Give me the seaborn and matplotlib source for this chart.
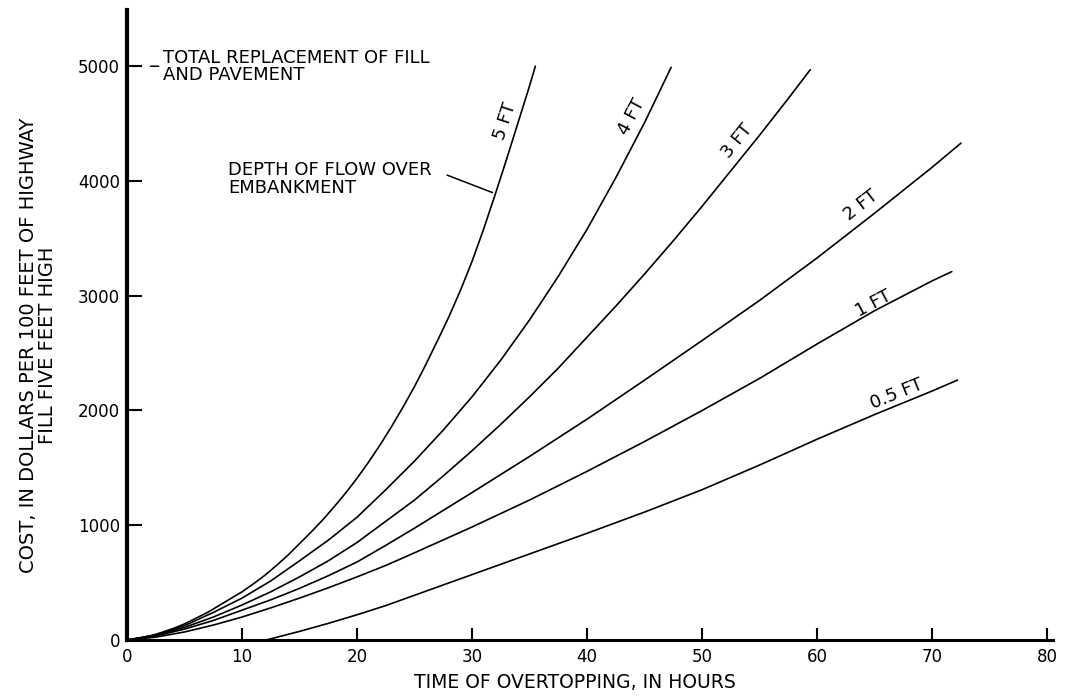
import matplotlib
matplotlib.use("Agg")
import matplotlib.pyplot as plt
import seaborn as sns
import pandas as pd

# ---- data ----
depths = ["5 FT", "4 FT", "3 FT", "2 FT", "1 FT", "0.5 FT"]

hours_5ft = [0, 1, 2, 3, 4, 5, 6, 7, 8, 9, 10, 11, 12, 13, 14, 15, 16, 17, 18, 19, 20,
             21, 22, 23, 24, 25, 26, 27, 28, 29, 30, 31, 32, 33, 34, 35, 35.5]
cost_5ft = [0, 15, 35, 65, 100, 140, 190, 240, 300, 360, 420, 490, 565, 650, 740, 840,
            940, 1045, 1160, 1280, 1410, 1550, 1700, 1860, 2030, 2210, 2405, 2610, 2820,
            3050, 3300, 3580, 3880, 4190, 4510, 4830, 5000]

hours_4ft = [0, 2.5, 5, 7.5, 10, 12.5, 15, 17.5, 20, 22.5, 25, 27.5, 30, 32.5, 35,
             37.5, 40, 42.5, 45, 47.3]
cost_4ft = [0, 45, 125, 240, 365, 515, 690, 870, 1070, 1310, 1560, 1830, 2120, 2440, 2790,
            3170, 3580, 4030, 4510, 4990]

hours_3ft = [0, 2.5, 5, 7.5, 10, 12.5, 15, 17.5, 20, 22.5, 25, 27.5, 30, 32.5, 35,
             37.5, 40, 42.5, 45, 47.5, 50, 52.5, 55, 57.5, 59.4]
cost_3ft = [0, 40, 110, 200, 305, 420, 550, 690, 850, 1035, 1220, 1430, 1650, 1880, 2120,
            2370, 2640, 2910, 3190, 3480, 3780, 4090, 4400, 4720, 4970]

hours_2ft = [0, 2.5, 5, 7.5, 10, 12.5, 15, 17.5, 20, 22.5, 25, 30, 35, 40, 45, 50, 55,
             60, 65, 70, 72.5]
cost_2ft = [0, 35, 95, 170, 260, 350, 450, 560, 680, 825, 975, 1285, 1600, 1925, 2265, 2610,
            2960, 3330, 3720, 4120, 4330]

hours_1ft = [0, 2.5, 5, 7.5, 10, 12.5, 15, 17.5, 20, 22.5, 25, 30, 35, 40, 45, 50, 55,
             60, 65, 70, 71.7]
cost_1ft = [0, 25, 70, 130, 200, 280, 365, 455, 550, 650, 760, 985, 1220, 1470, 1730, 2000,
            2280, 2580, 2870, 3130, 3210]

hours_05ft = [12.1, 15, 17.5, 20, 22.5, 25, 30, 35, 40, 45, 50, 55, 60, 65, 70, 72.2]
cost_05ft = [0, 75, 145, 220, 300, 390, 570, 750, 930, 1115, 1310, 1525, 1750, 1965, 2170, 2265]

x_ticks = [0, 10, 20, 30, 40, 50, 60, 70, 80]
y_ticks = [0, 1000, 2000, 3000, 4000, 5000]

series = [(hours_5ft, cost_5ft), (hours_4ft, cost_4ft), (hours_3ft, cost_3ft),
          (hours_2ft, cost_2ft), (hours_1ft, cost_1ft), (hours_05ft, cost_05ft)]

frames = []
for name, (h, c) in zip(depths, series):
    frames.append(pd.DataFrame({"hours": h, "cost": c, "depth": name}))
df = pd.concat(frames, ignore_index=True)

# ---- figure ----
sns.set_style("ticks")
plt.rcParams["font.family"] = ["DejaVu Sans"]
plt.rcParams["text.color"] = "black"

W, H = 1065, 697
fig = plt.figure(figsize=(W / 100, H / 100), dpi=100)
ax = fig.add_axes([127 / W, 1 - 640 / H, 926 / W, 630 / H])

sns.lineplot(data=df, x="hours", y="cost", hue="depth", palette=["black"] * 6,
             legend=False, estimator=None, sort=False, linewidth=1.2, ax=ax)

ax.set_xlim(0, 80.5)
ax.set_ylim(0, 5490)
ax.set_xticks(x_ticks)
ax.set_yticks(y_ticks)
ax.set_xticklabels([str(v) for v in x_ticks])
ax.set_yticklabels([str(v) for v in y_ticks])
ax.set_xlabel("")
ax.set_ylabel("")

for s in ["top", "right"]:
    ax.spines[s].set_visible(False)
ax.spines["left"].set_linewidth(3.0)
ax.spines["bottom"].set_linewidth(2.2)
ax.spines["left"].set_color("black")
ax.spines["bottom"].set_color("black")

ax.tick_params(axis="x", direction="in", length=9, width=1.5, pad=6,
               labelsize=12, colors="black")
ax.tick_params(axis="y", direction="in", length=11, width=1.5, pad=5,
               labelsize=12, colors="black")

# axis titles
fig.text(575 / W, 1 - 683 / H, "TIME OF OVERTOPPING, IN HOURS",
         ha="center", va="center", fontsize=13.5, color="black")
fig.text(38 / W, 1 - 345 / H,
         "COST, IN DOLLARS PER 100 FEET OF HIGHWAY\nFILL FIVE FEET HIGH",
         ha="center", va="center", rotation=90, fontsize=14, color="black",
         multialignment="center", linespacing=0.95)

# curve labels
label_pos = {
    "5 FT": (32.9, 4520, 72),
    "4 FT": (43.9, 4560, 62),
    "3 FT": (53.0, 4350, 51),
    "2 FT": (63.8, 3790, 38),
    "1 FT": (64.9, 2930, 28),
    "0.5 FT": (66.9, 2140, 22),
}
for name in depths:
    x, y, rot = label_pos[name]
    ax.text(x, y, name, rotation=rot, ha="center", va="center",
            fontsize=13, rotation_mode="anchor", color="black")

# annotations
ax.text(3.1, 5000, "TOTAL REPLACEMENT OF FILL\nAND PAVEMENT", ha="left",
        va="center", fontsize=13, linespacing=0.95, color="black")
ax.annotate("", xy=(1.8, 5000), xytext=(3.0, 5000),
            arrowprops=dict(arrowstyle="-", lw=1.1, color="black"))

ax.text(8.8, 4016, "DEPTH OF FLOW OVER\nEMBANKMENT", ha="left", va="center",
        fontsize=13, linespacing=0.95, color="black")
ax.annotate("", xy=(32.0, 3890), xytext=(27.6, 4060),
            arrowprops=dict(arrowstyle="-", lw=1.1, color="black"))

fig.savefig("out.png", dpi=100)
